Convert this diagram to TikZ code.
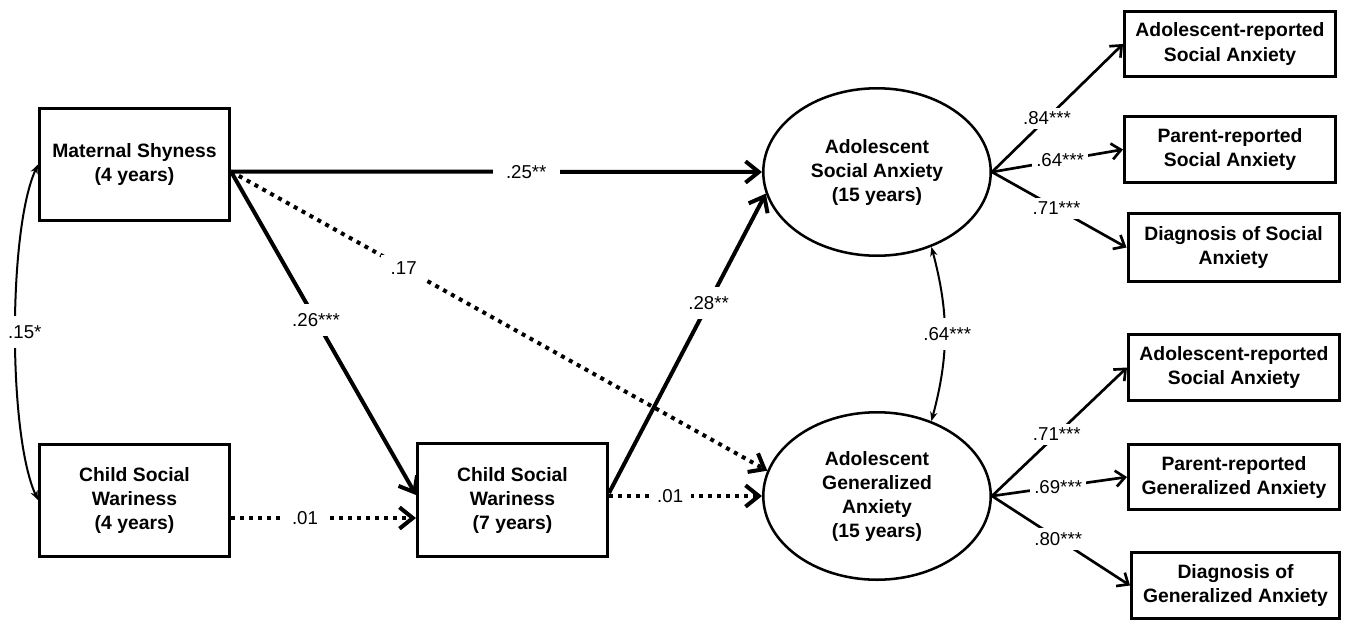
\documentclass[tikz,border=0pt]{standalone}
\usepackage{fontspec}
\setmainfont{Liberation Sans}
\usetikzlibrary{arrows.meta,shapes.geometric}
\begin{document}
\begin{tikzpicture}[x=0.75pt,y=0.75pt,
  box/.style={draw,line width=2.25pt,align=center,inner sep=0pt,font=\bfseries\fontsize{14.5}{18}\selectfont},
  lat/.style={draw,ellipse,line width=1.9pt,align=center,inner sep=0pt,minimum width=170.6pt,minimum height=125.6pt,font=\bfseries\fontsize{14.5}{18}\selectfont},
  bigbox/.style={box,minimum width=142.5pt,minimum height=84pt},
  obsbox/.style={box,minimum width=158.25pt,minimum height=49pt},
  tipbig/.style={-{Straight Barb[length=10pt,width=16pt]}},
  solidpath/.style={line width=3pt,tipbig},
  dotpath/.style={line width=3pt,dash pattern=on 3pt off 3.75pt,tipbig},
  loadpath/.style={line width=2pt,-{Straight Barb[length=7pt,width=12pt]}},
  covpath/.style={line width=1.5pt,{Stealth[length=7pt,width=5.5pt]}-{Stealth[length=7pt,width=5.5pt]}},
  lbl/.style={fill=white,inner sep=3pt,font=\fontsize{14}{16}\selectfont},
]
\useasboundingbox (0,0) rectangle (1351,-621);

\node[bigbox] (ms) at (134.5,-164.5) {Maternal Shyness\\(4 years)};
\node[bigbox] (cw4) at (134.5,-500) {Child Social\\Wariness\\(4 years)};
\node[bigbox,minimum height=84.75pt] (cw7) at (512.5,-500) {Child Social\\Wariness\\(7 years)};
\node[lat] (asa) at (877,-172) {Adolescent\\Social Anxiety\\(15 years)};
\node[lat] (agen) at (877,-496) {Adolescent\\Generalized\\Anxiety\\(15 years)};
\node[obsbox] (r1) at (1230,-44) {Adolescent-reported\\Social Anxiety};
\node[obsbox] (r2) at (1230,-149.5) {Parent-reported\\Social Anxiety};
\node[obsbox,minimum height=51pt] (r3) at (1233.5,-247.5) {Diagnosis of Social\\Anxiety};
\node[obsbox] (r4) at (1234,-367.5) {Adolescent-reported\\Social Anxiety};
\node[obsbox] (r5) at (1234,-477) {Parent-reported\\Generalized Anxiety};
\node[obsbox,minimum width=156pt] (r6) at (1235.5,-585.5) {Diagnosis of\\Generalized Anxiety};

\draw[solidpath] ([yshift=-5.25pt]ms.east) -- (asa.west) node[lbl,pos=0.556,inner xsep=10pt] {.25**};
\draw[solidpath] ([yshift=-5.25pt]ms.east) -- ([yshift=3.75pt]cw7.west) node[lbl,pos=0.46,inner xsep=2pt,inner ysep=7pt] {.26***};
\draw[dotpath] ([yshift=-5.25pt]ms.east) -- (agen.167) node[lbl,pos=0.322,inner xsep=7pt,inner ysep=5pt] {.17};
\draw[dotpath] ([yshift=-13.5pt]cw4.east) -- ([yshift=-13.5pt]cw7.west) node[lbl,pos=0.4,inner xsep=8pt] {.01};
\draw[solidpath] ([yshift=5.25pt]cw7.east) -- (asa.191) node[lbl,pos=0.635,inner xsep=2pt,inner ysep=7pt] {.28**};
\draw[dotpath] (cw7.east |- agen.west) -- (agen.west) node[lbl,pos=0.4,inner xsep=6pt] {.01};

\draw[covpath] (asa.-54) to[bend left=15] node[lbl,inner xsep=1.5pt,inner ysep=7pt,xshift=2pt] {.64***} (agen.54);
\draw[covpath] (ms.west) .. controls +(-30,-65) and +(-30,65) .. node[lbl,inner xsep=1.5pt,inner ysep=7pt,pos=0.5,xshift=7pt] {.15*} (cw4.west);

\draw[loadpath] (asa.east) -- (r1.west) node[lbl,pos=0.42] {.84***};
\draw[loadpath] (asa.east) -- (r2.west) node[lbl,pos=0.52] {.64***};
\draw[loadpath] (asa.east) -- (r3.west) node[lbl,pos=0.48] {.71***};
\draw[loadpath] (agen.east) -- (r4.west) node[lbl,pos=0.48] {.71***};
\draw[loadpath] (agen.east) -- (r5.west) node[lbl,pos=0.49] {.69***};
\draw[loadpath] (agen.east) -- (r6.west) node[lbl,pos=0.48] {.80***};
\end{tikzpicture}
\end{document}
